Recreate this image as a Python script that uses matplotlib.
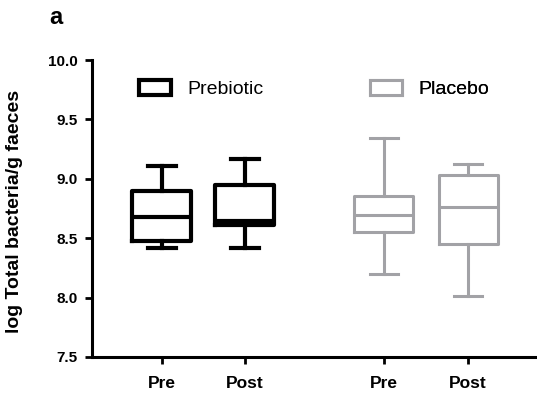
import matplotlib.pyplot as plt
from matplotlib.patches import Patch

# groups and summary statistics (log Total bacteria/g faeces)
groups = ["Prebiotic", "Placebo"]
tick_labels = ["Pre", "Post", "Pre", "Post"]
positions = [1.0, 2.0, 3.68, 4.7]
whislo = [8.415, 8.415, 8.20, 8.013]
q1 = [8.48, 8.612, 8.555, 8.449]
med = [8.68, 8.645, 8.695, 8.76]
q3 = [8.90, 8.948, 8.855, 9.032]
whishi = [9.108, 9.17, 9.34, 9.122]

black = "#000000"
grey = "#A2A2A6"
colors = [black, black, grey, grey]
lws = [3.0, 3.0, 2.2, 2.2]

plt.rcParams["font.family"] = ["Liberation Sans", "DejaVu Sans"]

fig = plt.figure(figsize=(5.37, 4.01), dpi=100)
ax = fig.add_axes([92 / 537, 1 - 357 / 401, 444 / 537, 297 / 401])

for i in range(len(positions)):
    stats = [{"whislo": whislo[i], "q1": q1[i], "med": med[i],
              "q3": q3[i], "whishi": whishi[i], "fliers": []}]
    lw = lws[i]
    c = colors[i]
    ax.bxp(stats, positions=[positions[i]], widths=0.71, showfliers=False,
           boxprops=dict(color=c, linewidth=lw),
           medianprops=dict(color=c, linewidth=lw, solid_capstyle="butt"),
           whiskerprops=dict(color=c, linewidth=lw),
           capprops=dict(color=c, linewidth=lw),
           capwidths=0.34, manage_ticks=False)

ax.set_ylim(7.5, 10.0)
ax.set_xlim(0.157, 5.52)
ax.set_yticks([7.5, 8.0, 8.5, 9.0, 9.5, 10.0])
ax.set_yticklabels(["7.5", "8.0", "8.5", "9.0", "9.5", "10.0"],
                   fontsize=11, fontweight="bold")
ax.set_xticks(positions)
ax.set_xticklabels(tick_labels, fontsize=12.5, fontweight="bold")
ax.tick_params(axis="both", width=2, length=5, color=black)
ax.tick_params(axis="x", pad=9)
ax.tick_params(axis="y", pad=5.5)

for s in ["top", "right"]:
    ax.spines[s].set_visible(False)
for s in ["left", "bottom"]:
    ax.spines[s].set_linewidth(2.2)

ax.set_ylabel("log Total bacteria/g faeces", fontsize=14, fontweight="bold")
ax.yaxis.set_label_coords(-0.155, 0.49)

# two separate legend entries, placed like the original
leg_x = [0.1059, 0.626]
leg_lw = [3.0, 2.2]
for k in range(len(groups)):
    h = Patch(facecolor="white", edgecolor=[black, grey][k],
              linewidth=leg_lw[k], label=groups[k])
    leg = ax.legend(handles=[h], loc="center left",
                    bbox_to_anchor=(leg_x[k], 0.902), frameon=False,
                    fontsize=14, handlelength=1.65, handleheight=0.82,
                    handletextpad=0.82, borderpad=0, borderaxespad=0)
    ax.add_artist(leg)

fig.text(56 / 537, 1 - 18 / 401, "a", fontsize=17, fontweight="bold",
         ha="center", va="center")

fig.savefig("out.png", dpi=100)
